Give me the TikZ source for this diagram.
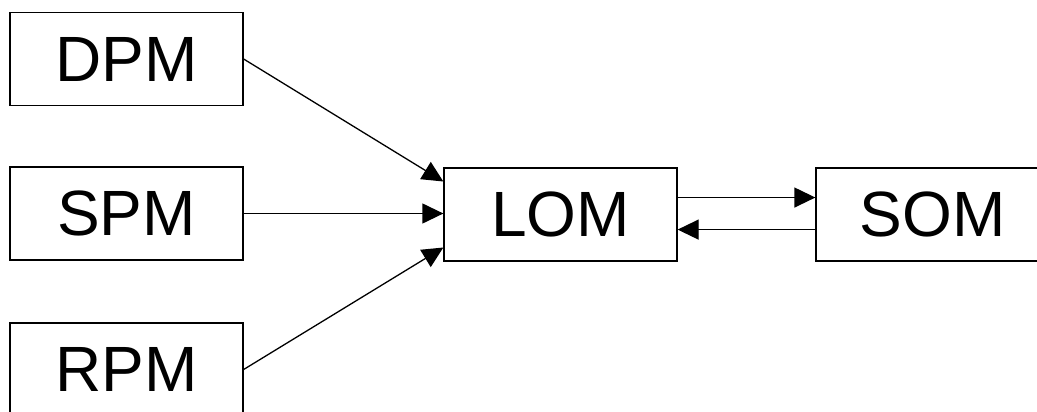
\documentclass[tikz,border=0pt]{standalone}
\usepackage{fontspec}
\setmainfont{Liberation Sans}
\usetikzlibrary{arrows.meta,calc}
\begin{document}
\begin{tikzpicture}[x=1pt,y=-1pt,
  blk/.style={draw=black,line width=1.3pt,minimum width=233pt,minimum height=93pt,inner sep=0pt,font=\fontsize{64}{64}\selectfont},
  conn/.style={line width=1.3pt,-{Triangle[length=21pt,width=20pt]}}]
\clip (0,0) rectangle (1037,412);
\useasboundingbox (0,0) rectangle (1037,412);
\node[blk] (dpm) at (126.5,59) {DPM};
\node[blk] (spm) at (126.5,213.5) {SPM};
\node[blk] (rpm) at (126.5,369.5) {RPM};
\node[blk] (lom) at (560.5,214.5) {LOM};
\node[blk] (som) at (932.5,214.5) {SOM};
\coordinate (lomA) at ($(lom.north west)!0.15!(lom.south west)$);
\coordinate (lomC) at ($(lom.north west)!0.85!(lom.south west)$);
\coordinate (lomR1) at ($(lom.north east)!0.32!(lom.south east)$);
\coordinate (lomR2) at ($(lom.north east)!0.66!(lom.south east)$);
\coordinate (somL1) at ($(som.north west)!0.32!(som.south west)$);
\coordinate (somL2) at ($(som.north west)!0.66!(som.south west)$);
\draw[conn] (dpm.east) -- (lomA);
\draw[conn] (spm.east) -- (spm.east -| lom.west);
\draw[conn] (rpm.east) -- (lomC);
\draw[conn] (lomR1) -- (somL1);
\draw[conn] (somL2) -- (lomR2);
\end{tikzpicture}
\end{document}
